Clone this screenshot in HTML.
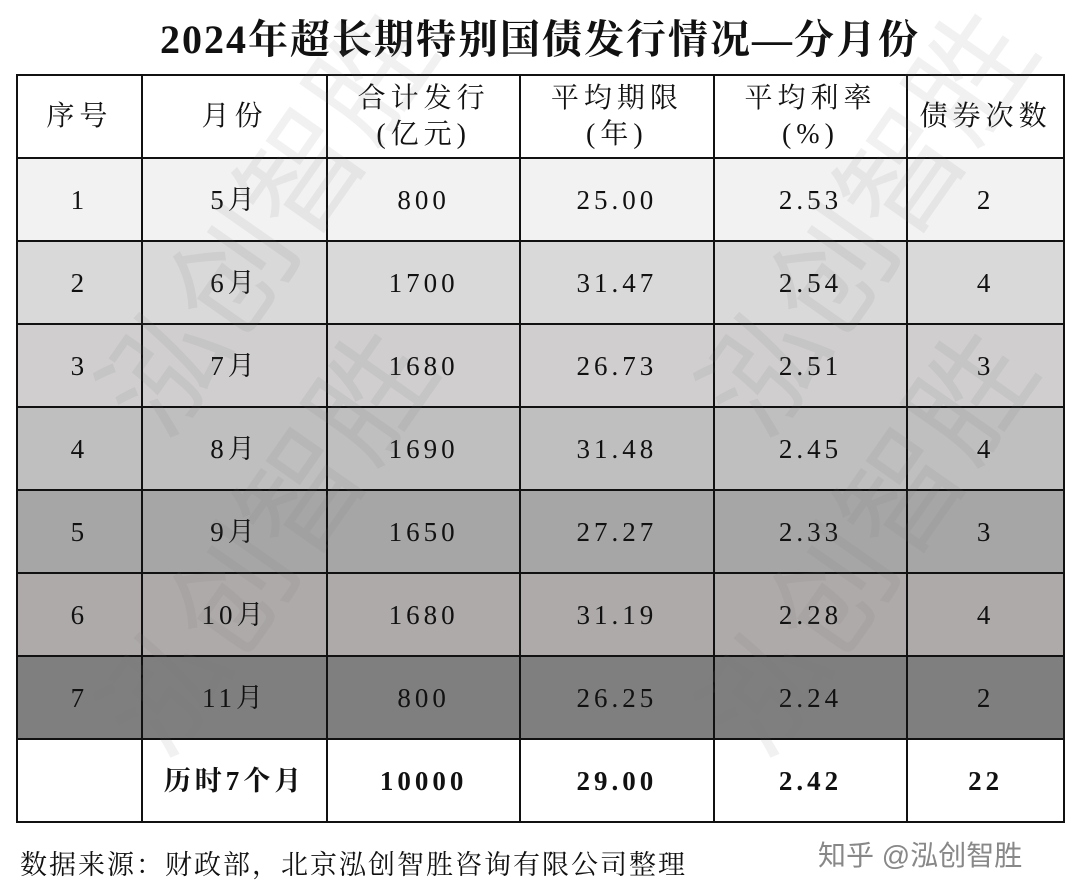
<!DOCTYPE html>
<html><head><meta charset="utf-8"><style>
body{margin:0;width:1080px;height:894px;background:#fff;overflow:hidden;position:relative;font-family:"Liberation Serif","Noto Serif CJK SC",serif;color:#111}
.t{position:absolute;left:0;width:1080px;top:8px;text-align:center;font-size:40px;letter-spacing:2px;font-weight:bold}
table{position:absolute;left:16px;top:74px;border-collapse:collapse;width:1049px}
td{border:2px solid #111;text-align:center;font-size:27px;letter-spacing:4px;padding:0;line-height:36px}
tr{height:83px}
.h td{font-size:28px;letter-spacing:5px}
.b td{font-weight:bold}
.f{position:absolute;left:20px;top:843px;font-size:27px;letter-spacing:2px}
.z{position:absolute;left:818px;top:834px;font-size:28px;color:#888;font-family:"Liberation Sans","Noto Sans CJK SC",sans-serif}
.w{position:absolute;font-size:120px;color:rgba(120,120,120,0.10);transform:rotate(-55deg);font-family:"Liberation Sans","Noto Sans CJK SC",sans-serif;white-space:nowrap;pointer-events:none}
</style></head><body>
<div class="t">2024年超长期特别国债发行情况—分月份</div>
<table>
<colgroup><col style="width:125px"><col style="width:186px"><col style="width:193px"><col style="width:194px"><col style="width:194px"><col style="width:157px"></colgroup>
<tr class="h" style="height:83px"><td>序号</td><td>月份</td><td>合计发行<br>(亿元)</td><td>平均期限<br>(年)</td><td>平均利率<br>(%)</td><td>债券次数</td></tr>
<tr style="background:#f2f2f2"><td>1</td><td>5月</td><td>800</td><td>25.00</td><td>2.53</td><td>2</td></tr>
<tr style="background:#d9d9d9"><td>2</td><td>6月</td><td>1700</td><td>31.47</td><td>2.54</td><td>4</td></tr>
<tr style="background:#d0cece"><td>3</td><td>7月</td><td>1680</td><td>26.73</td><td>2.51</td><td>3</td></tr>
<tr style="background:#bfbfbf"><td>4</td><td>8月</td><td>1690</td><td>31.48</td><td>2.45</td><td>4</td></tr>
<tr style="background:#a6a6a6"><td>5</td><td>9月</td><td>1650</td><td>27.27</td><td>2.33</td><td>3</td></tr>
<tr style="background:#aeaaaa"><td>6</td><td>10月</td><td>1680</td><td>31.19</td><td>2.28</td><td>4</td></tr>
<tr style="background:#7f7f7f"><td>7</td><td>11月</td><td>800</td><td>26.25</td><td>2.24</td><td>2</td></tr>
<tr class="b" style="background:#fff"><td></td><td>历时7个月</td><td>10000</td><td>29.00</td><td>2.42</td><td>22</td></tr>
</table>
<div class="w" style="left:20px;top:450px">泓创智胜</div>
<div class="w" style="left:620px;top:450px">泓创智胜</div>
<div class="w" style="left:20px;top:130px">泓创智胜</div>
<div class="w" style="left:620px;top:130px">泓创智胜</div>
<div class="f">数据来源：财政部，北京泓创智胜咨询有限公司整理</div>
<div class="z">知乎 @泓创智胜</div>
</body></html>
